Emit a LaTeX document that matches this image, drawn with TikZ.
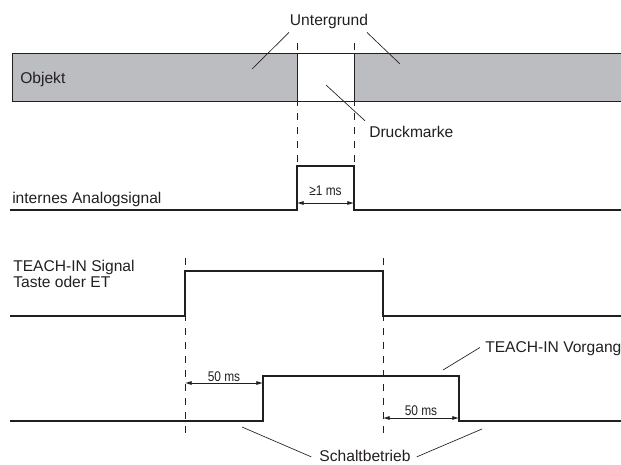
\documentclass[tikz,border=0pt]{standalone}
\usepackage{fontspec}
\setmainfont{Liberation Sans}
\newfontfamily\narrowsans[FakeStretch=0.85]{Liberation Sans}
\usepackage{tikz}
\usetikzlibrary{arrows.meta}
\definecolor{objgray}{RGB}{188,189,192}
\definecolor{ink}{RGB}{35,31,32}
\tikzset{txt/.style={inner sep=0pt,anchor=base west,text=ink,
                     font=\fontsize{11.7}{14}\selectfont}}
\tikzset{dimtxt/.style={inner sep=0pt,anchor=base,text=ink,
                        font=\narrowsans\fontsize{10.5}{12}\selectfont}}
\tikzset{signal/.style={draw=ink,line width=1.2pt,line join=miter}}
\tikzset{marker/.style={draw=ink,line width=0.65pt,dash pattern=on 5.2pt off 5.3pt}}
\tikzset{leader/.style={draw=ink,line width=0.5pt}}
\tikzset{dim/.style={draw=ink,line width=0.5pt,
                     {Latex[length=5pt,width=3pt]}-{Latex[length=5pt,width=3pt]}}}

\begin{document}
\begin{tikzpicture}[x=0.75pt,y=-0.75pt]
    \useasboundingbox (0,0) rectangle (621,464);
    % Objekt mit Druckmarke
    \fill[objgray] (12,53) rectangle (621,101);
    \draw[ink,line width=0.6pt] (621,53) -- (12,53) -- (12,101) -- (621,101);
    \draw[ink,line width=0.6pt,fill=white] (297,53) rectangle (354,101);
    % Signale
    \foreach \y/\a/\b/\h in {210/297/354/44, 316/185/383/45, 421/263/459/45}{%
          \draw[signal] (10,\y) -- (\a,\y) -- (\a,\y-\h) -- (\b,\y-\h)
                        -- (\b,\y) -- (621,\y);
        }
    % Markierungen
    \foreach \x/\ya/\yb in {297/43/166, 354/43/166, 185/258/434, 383/258/434}{%
          \draw[marker] (\x,\ya) -- (\x,\yb);
        }
    % Labels
    \node[txt,anchor=base] (untergrund) at (329,26) {Untergrund};
    \node[txt] (objekt) at (20,83) {Objekt};
    \node[txt] (druckmarke) at (369,137) {Druckmarke};
    \node[txt] (analog) at (12,203) {internes Analogsignal};
    \node[txt,align=left] (teach) at (13,287)
          {TEACH-IN Signal\\[-2.1pt]Taste oder ET};
    \node[txt] (vorgang) at (485,352) {TEACH-IN Vorgang};
    \node[txt,anchor=base] (schalt) at (365,461.5) {Schaltbetrieb};
    % Leader lines
    \coordinate (ugl) at (252,69);
    \coordinate (ugr) at (400,64);
    \coordinate (dm) at (326,85);
    \coordinate (vg) at (443,370);
    \coordinate (sbl) at (242,427);
    \coordinate (sbr) at (482,429);
    \draw[leader] (ugl) -- ([xshift=-30pt,yshift=-2.2pt]untergrund.south);
    \draw[leader] (ugr) -- ([xshift=28.5pt,yshift=-2.2pt]untergrund.south);
    \draw[leader] (dm) -- ([xshift=-3pt,yshift=3.5pt]druckmarke.north west);
    \draw[leader] (vg) -- ([xshift=-3.8pt,yshift=0.5pt]vorgang.west);
    \draw[leader] (sbl) -- ([xshift=-6pt,yshift=3.5pt]schalt.base west);
    \draw[leader] (sbr) -- ([xshift=4.5pt,yshift=3.5pt]schalt.base east);
    % Zeiten
    \coordinate (a1) at (297,203);
    \coordinate (b1) at (354,203);
    \coordinate (a2) at (185,383);
    \coordinate (b2) at (263,383);
    \coordinate (a3) at (383,418);
    \coordinate (b3) at (459,418);
    \draw[dim] (a1) -- node[dimtxt,yshift=5.3pt] (t1) {≥1 ms} (b1);
    \draw[dim] (a2) -- node[dimtxt,yshift=1.2pt] (t2) {50 ms} (b2);
    \draw[dim] (a3) -- node[dimtxt,yshift=1.6pt] (t3) {50 ms} (b3);
\end{tikzpicture}
\end{document}
